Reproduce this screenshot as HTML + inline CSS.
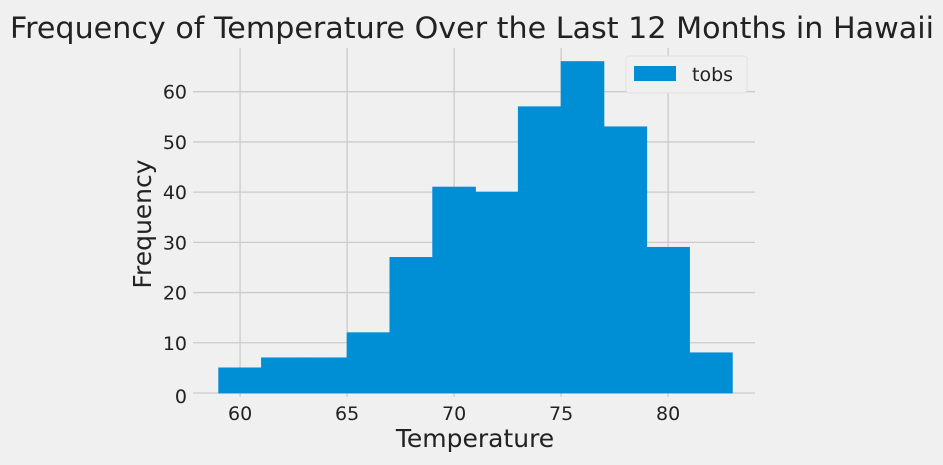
<!DOCTYPE html>
<html><head><meta charset="utf-8"><style>
body{margin:0;background:#f0f0f0;}
svg{display:block;font-family:"DejaVu Sans","Liberation Sans",sans-serif;}
</style></head><body>
<svg id="chart" width="943" height="465">
<rect width="943" height="465" fill="#f0f0f0"/>
<text x="472" y="38" text-anchor="middle" font-size="29" textLength="924" lengthAdjust="spacingAndGlyphs" fill="#222">Frequency of Temperature Over the Last 12 Months in Hawaii</text>
<g id="grid"></g>
<g id="bars"></g>
<g id="ticks"></g>
<text x="475" y="447" text-anchor="middle" font-size="25" fill="#222">Temperature</text>
<text transform="translate(151,224) rotate(-90)" text-anchor="middle" font-size="25" fill="#222">Frequency</text>
<g>
<rect x="626" y="56" width="121" height="37" rx="3" fill="#f0f0f0" stroke="#e0e0e0"/>
<rect x="634" y="66" width="42" height="15" fill="#008fd5"/>
<text x="692" y="81" font-size="19" fill="#222">tobs</text>
</g>
</svg>
<script>
const binStart = 59;
const binWidth = 2;
const counts = [5, 7, 7, 12, 27, 41, 40, 57, 66, 53, 29, 8];
const xTicks = [60, 65, 70, 75, 80];
const yTicks = [0, 10, 20, 30, 40, 50, 60];

const NS = "http://www.w3.org/2000/svg";
const xMin = 57.8, xMax = 84.2;
const px0 = 193, px1 = 758;
const yTop = 45, yBot = 393;
const yMax = Math.max(...counts) * 1.05;
const X = v => px0 + (v - xMin) / (xMax - xMin) * (px1 - px0);
const Y = v => yBot - v / yMax * (yBot - yTop);
function mk(tag, attrs, parent) {
  const e = document.createElementNS(NS, tag);
  for (const k in attrs) e.setAttribute(k, attrs[k]);
  parent.appendChild(e);
  return e;
}
const grid = document.getElementById('grid');
const bars = document.getElementById('bars');
const ticks = document.getElementById('ticks');
xTicks.forEach(t => {
  const l = mk('line', {x1: X(t), x2: X(t), y1: yTop + 3, y2: yBot + 4, stroke: '#cbcbcb', 'stroke-width': 1.3}, grid);
  
  
  const tx = mk('text', {x: X(t), y: 420, 'text-anchor': 'middle', 'font-size': 19, fill: '#222'}, ticks);
  tx.textContent = t;
  
  
});
yTicks.forEach(t => {
  const l = mk('line', {x1: px0, x2: px1 - 3, y1: Y(t), y2: Y(t), stroke: '#cbcbcb', 'stroke-width': 1.3}, grid);
  
  
  const tx = mk('text', {x: 187, y: Y(t) + 7 + (t === 0 ? 3 : 0), 'text-anchor': 'end', 'font-size': 19, fill: '#222'}, ticks);
  tx.textContent = t;
  
  
});
counts.forEach((c, i) => {
  const a = binStart + i * binWidth, b = a + binWidth;
  const r = mk('rect', {x: X(a), y: Y(c), width: X(b) - X(a), height: yBot - Y(c), fill: '#008fd5', stroke: '#008fd5', 'stroke-width': 0.8}, bars);
  
  
});
</script>
</body></html>
